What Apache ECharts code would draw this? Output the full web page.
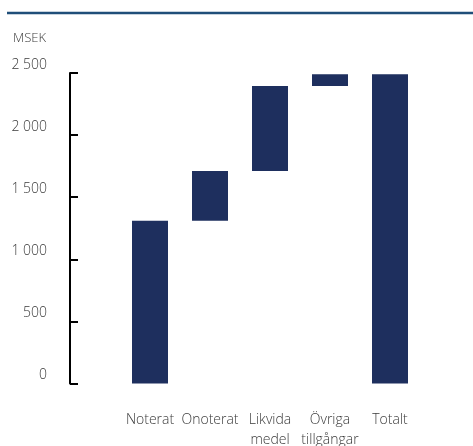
<!DOCTYPE html>
<html>
<head>
<meta charset="utf-8">
<script src="https://cdn.jsdelivr.net/npm/echarts@6/dist/echarts.min.js"></script>
<style>html,body{margin:0;padding:0;background:#fff}#c{width:473px;height:446px}</style>
</head>
<body>
<div id="c"></div>
<script>
var categories = ['Noterat', 'Onoterat', 'Likvida\nmedel', 'Övriga\ntillgångar', 'Totalt'];
var increments = [1310, 400, 685, 95];
var total = 2490;
var yTicks = [0, 500, 1000, 1500, 2000, 2500];

var base = [], vis = [], acc = 0;
for (var i = 0; i < increments.length; i++) { base.push(acc); vis.push(increments[i]); acc += increments[i]; }
base.push(0); vis.push(total);

var font = '"Open Sans", "Noto Sans", sans-serif';
var txt = '#3a3a3a';
var chart = echarts.init(document.getElementById('c'), null, {renderer: 'canvas'});
chart.setOption({
  animation: false,
  backgroundColor: '#fff',
  graphic: [
    {type: 'line', shape: {x1: 7, y1: 13, x2: 473, y2: 13}, style: {stroke: '#1f4e79', lineWidth: 2.5}},
    {type: 'text', left: 13, top: 32, style: {text: 'MSEK', font: '300 13px ' + font, fill: txt}}
  ],
  grid: {left: 120, right: 53, top: 73, bottom: 62.5, outerBoundsMode: 'none', containLabel: false},
  xAxis: {
    type: 'category', data: categories,
    axisLine: {show: false}, axisTick: {show: false},
    axisLabel: {margin: 27, fontSize: 14, fontWeight: 300, lineHeight: 20, color: txt, fontFamily: font, interval: 0}
  },
  yAxis: {
    type: 'value', min: yTicks[0], max: yTicks[yTicks.length - 1], interval: yTicks[1] - yTicks[0],
    offset: 50,
    splitLine: {show: false},
    axisLine: {show: true, lineStyle: {color: '#000', width: 2}},
    axisTick: {show: true, inside: true, length: 8, lineStyle: {color: '#000', width: 2}},
    axisLabel: {
      margin: 23, fontSize: 14, fontWeight: 300, color: txt, fontFamily: font, verticalAlign: 'bottom',
      padding: [0, 0, 1, 0],
      formatter: function (v) { return String(v).replace(/\B(?=(\d{3})+(?!\d))/g, ' '); }
    }
  },
  series: [
    {type: 'bar', stack: 'w', data: base, itemStyle: {color: 'transparent'}, barWidth: 36, silent: true},
    {type: 'bar', stack: 'w', data: vis, itemStyle: {color: '#1e2f5e'}, barWidth: 36}
  ]
});
</script>
</body>
</html>
